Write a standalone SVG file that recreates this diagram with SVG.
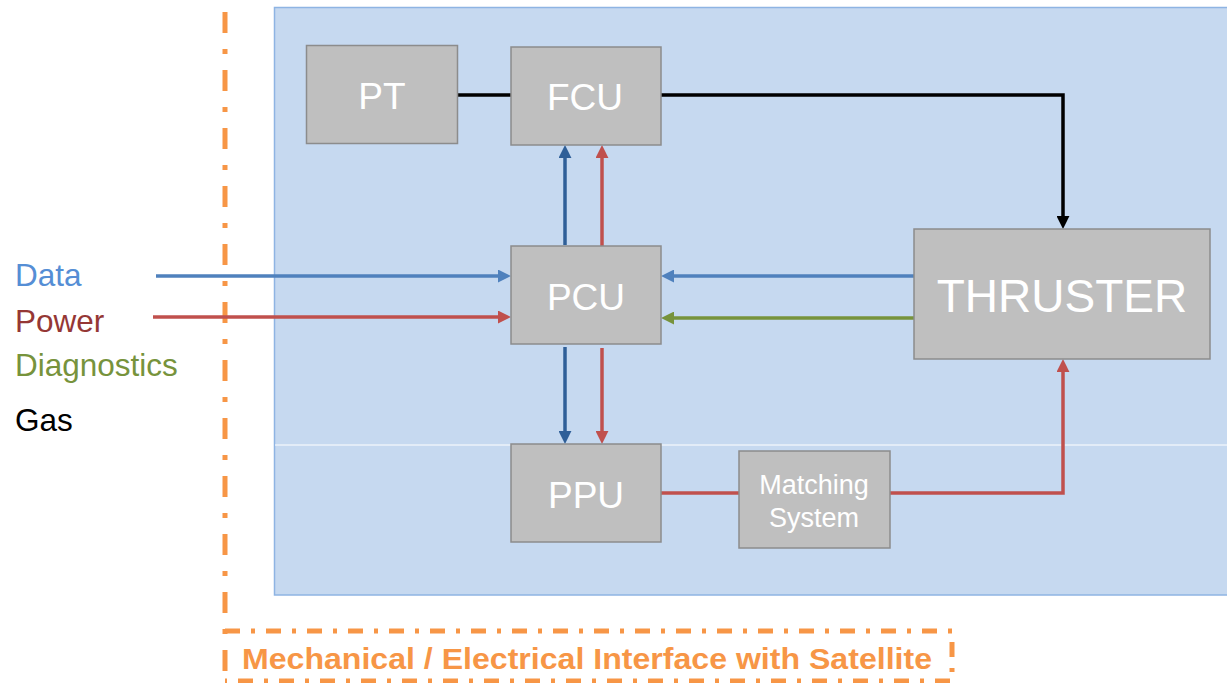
<svg xmlns="http://www.w3.org/2000/svg" width="1227" height="683" viewBox="0 0 1227 683">
<style>
.node rect{fill:#bfbfbf;stroke:#8c8c8c;stroke-width:1.5}
.node text{fill:#ffffff;font-family:"Liberation Sans",Arial,sans-serif;text-anchor:middle}
.c{fill:none;stroke-width:3.5}
.k{stroke:#000000}.b{stroke:#4f81bd}.db{stroke:#2f5f98}.r{stroke:#c0504d}.g{stroke:#77933c}
.leg{font-family:"Liberation Sans",Arial,sans-serif;font-size:31.5px}
.orange{fill:none;stroke:#f79646;stroke-width:5}
</style>
<defs>
<marker id="mk" viewBox="0 0 12 12" refX="1" refY="6" markerWidth="13" markerHeight="13" markerUnits="userSpaceOnUse" orient="auto"><path d="M0,0 L12,6 L0,12 z" fill="#000000"/></marker>
<marker id="mb" viewBox="0 0 12 12" refX="1" refY="6" markerWidth="13" markerHeight="13" markerUnits="userSpaceOnUse" orient="auto"><path d="M0,0 L12,6 L0,12 z" fill="#4f81bd"/></marker>
<marker id="mdb" viewBox="0 0 12 12" refX="1" refY="6" markerWidth="13" markerHeight="13" markerUnits="userSpaceOnUse" orient="auto"><path d="M0,0 L12,6 L0,12 z" fill="#2f5f98"/></marker>
<marker id="mr" viewBox="0 0 12 12" refX="1" refY="6" markerWidth="13" markerHeight="13" markerUnits="userSpaceOnUse" orient="auto"><path d="M0,0 L12,6 L0,12 z" fill="#c0504d"/></marker>
<marker id="mg" viewBox="0 0 12 12" refX="1" refY="6" markerWidth="13" markerHeight="13" markerUnits="userSpaceOnUse" orient="auto"><path d="M0,0 L12,6 L0,12 z" fill="#77933c"/></marker>
</defs>
<rect width="1227" height="683" fill="#ffffff"/>
<g id="panel">
<rect x="274.5" y="7.5" width="965" height="587.5" fill="#c6d9f0" stroke="#8eb4e3" stroke-width="1.5"/>
<line x1="275" y1="445" x2="1227" y2="445" stroke="#ffffff" stroke-width="1"/>
</g>
<g id="interface">
<line class="orange" x1="225" y1="12" x2="225" y2="683" stroke-dasharray="21 16 5 16"/>
<path class="orange" d="M225,631 H952 V681 H225" stroke-dasharray="15 11 4 11"/>
<text x="242" y="669" font-family="'Liberation Sans',Arial,sans-serif" font-size="29" font-weight="bold" fill="#f79646" textLength="690" lengthAdjust="spacingAndGlyphs">Mechanical / Electrical Interface with Satellite</text>
</g>
<g id="legend">
<text class="leg" x="15" y="286" fill="#558ed5">Data</text>
<text class="leg" x="15" y="332" fill="#953735">Power</text>
<text class="leg" x="15" y="376" fill="#77933c">Diagnostics</text>
<text class="leg" x="15" y="431" fill="#000000">Gas</text>
</g>
<g id="connectors">
<path class="c k" d="M457,95 H511"/>
<path class="c k" d="M661,95 H1063 V217" marker-end="url(#mk)"/>
<path class="c b" d="M156,276 H499" marker-end="url(#mb)"/>
<path class="c r" d="M153,317 H499" marker-end="url(#mr)"/>
<path class="c b" d="M914,276 H673" marker-end="url(#mb)"/>
<path class="c g" d="M914,318 H673" marker-end="url(#mg)"/>
<path class="c db" d="M565,245 V157" marker-end="url(#mdb)"/>
<path class="c r" d="M602,246 V157" marker-end="url(#mr)"/>
<path class="c db" d="M565,347 V432" marker-end="url(#mdb)"/>
<path class="c r" d="M602,348 V432" marker-end="url(#mr)"/>
<path class="c r" d="M661,493 H739"/>
<path class="c r" d="M890,493 H1063 V371" marker-end="url(#mr)"/>
</g>
<g id="PT" class="node"><rect x="306.5" y="45.5" width="151" height="98"/><text x="382" y="109" font-size="37">PT</text></g>
<g id="FCU" class="node"><rect x="511" y="47" width="150" height="98"/><text x="585" y="110" font-size="37">FCU</text></g>
<g id="PCU" class="node"><rect x="511" y="246" width="150" height="98"/><text x="586" y="310" font-size="37">PCU</text></g>
<g id="PPU" class="node"><rect x="511" y="444" width="150" height="98"/><text x="586" y="508" font-size="37">PPU</text></g>
<g id="MatchingSystem" class="node"><rect x="739" y="451" width="151" height="97"/><text x="814" y="494" font-size="27">Matching</text><text x="814" y="527" font-size="27">System</text></g>
<g id="THRUSTER" class="node"><rect x="914" y="229" width="296" height="130"/><text x="1062" y="312" font-size="46">THRUSTER</text></g>
</svg>
